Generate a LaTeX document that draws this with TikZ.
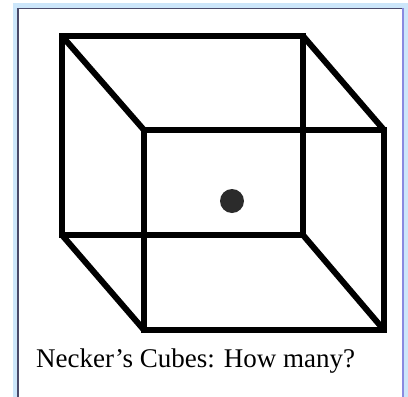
\documentclass[tikz,border=0pt]{standalone}
\usepackage{fontspec}
\setmainfont{Liberation Serif}
\definecolor{framblue}{HTML}{CCE6FA}
\definecolor{framdark}{HTML}{4A4A6A}
\definecolor{framright}{HTML}{8A8AE0}
\definecolor{dotgray}{HTML}{2B2B2B}
\begin{document}
\begin{tikzpicture}[x=1pt,y=-1pt,
  edge/.style={line width=6pt,line join=miter,black},
  diag/.style={line width=6pt,line cap=butt,black},
  caption/.style={anchor=base west,inner sep=0pt,font=\fontsize{27}{30}\selectfont}]
\useasboundingbox (0,0) rectangle (408,397);
% frame
\fill[framblue] (13,3) rectangle (408,397);
\fill[white] (18,8) rectangle (403,397);
\draw[framdark,line width=1.2pt] (18,397) -- (18,8.5) -- (403,8.5);
\draw[framright,line width=1.2pt] (403,8) -- (403,397);
% cube corners
\coordinate (b1) at (62,36);
\coordinate (b2) at (303,36);
\coordinate (b3) at (303,235);
\coordinate (b4) at (62,235);
\coordinate (f1) at (144,130);
\coordinate (f2) at (384,130);
\coordinate (f3) at (384,330);
\coordinate (f4) at (144,330);
\draw[edge] (b1) -- (b2) -- (b3) -- (b4) -- cycle;
\draw[edge] (f1) -- (f2) -- (f3) -- (f4) -- cycle;
\draw[diag] (b1) -- (f1);
\draw[diag] (b2) -- (f2);
\draw[diag] (b3) -- (f3);
\draw[diag] (b4) -- (f4);
% dot
\fill[dotgray] (232,201) circle (12);
% caption
\node[caption] (cap) at (36,367) {Necker’s Cubes: How many?};
\end{tikzpicture}
\end{document}
